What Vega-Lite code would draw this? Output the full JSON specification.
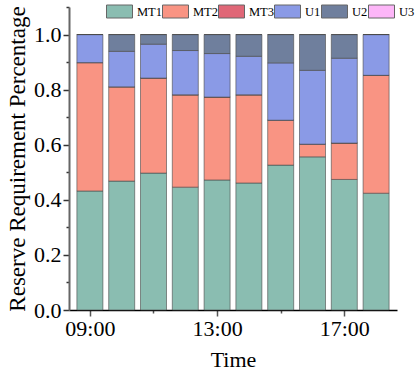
{
  "$schema": "https://vega.github.io/schema/vega-lite/v6.json",
  "width": 328,
  "height": 303,
  "autosize": {"type": "none"},
  "padding": {"left": 69, "top": 7, "right": 18, "bottom": 71},
  "background": "white",
  "config": {
    "view": {"stroke": null},
    "font": "Liberation Serif, Times New Roman, serif",
    "axis": {"labelFont": "Liberation Serif, Times New Roman, serif", "titleFont": "Liberation Serif, Times New Roman, serif"},
    "legend": {"labelFont": "Liberation Serif, Times New Roman, serif", "titleFont": "Liberation Serif, Times New Roman, serif"}
  },
  "data": {
    "values": [
      {"hour": 9, "series": "MT1", "k": 1, "v": 0.432},
      {"hour": 9, "series": "MT2", "k": 2, "v": 0.466},
      {"hour": 9, "series": "MT3", "k": 3, "v": 0},
      {"hour": 9, "series": "U1", "k": 4, "v": 0.102},
      {"hour": 9, "series": "U2", "k": 5, "v": 0},
      {"hour": 9, "series": "U3", "k": 6, "v": 0},
      {"hour": 10, "series": "MT1", "k": 1, "v": 0.468},
      {"hour": 10, "series": "MT2", "k": 2, "v": 0.342},
      {"hour": 10, "series": "MT3", "k": 3, "v": 0},
      {"hour": 10, "series": "U1", "k": 4, "v": 0.129},
      {"hour": 10, "series": "U2", "k": 5, "v": 0.061},
      {"hour": 10, "series": "U3", "k": 6, "v": 0},
      {"hour": 11, "series": "MT1", "k": 1, "v": 0.497},
      {"hour": 11, "series": "MT2", "k": 2, "v": 0.345},
      {"hour": 11, "series": "MT3", "k": 3, "v": 0},
      {"hour": 11, "series": "U1", "k": 4, "v": 0.123},
      {"hour": 11, "series": "U2", "k": 5, "v": 0.035},
      {"hour": 11, "series": "U3", "k": 6, "v": 0},
      {"hour": 12, "series": "MT1", "k": 1, "v": 0.446},
      {"hour": 12, "series": "MT2", "k": 2, "v": 0.335},
      {"hour": 12, "series": "MT3", "k": 3, "v": 0},
      {"hour": 12, "series": "U1", "k": 4, "v": 0.161},
      {"hour": 12, "series": "U2", "k": 5, "v": 0.058},
      {"hour": 12, "series": "U3", "k": 6, "v": 0},
      {"hour": 13, "series": "MT1", "k": 1, "v": 0.472},
      {"hour": 13, "series": "MT2", "k": 2, "v": 0.301},
      {"hour": 13, "series": "MT3", "k": 3, "v": 0},
      {"hour": 13, "series": "U1", "k": 4, "v": 0.158},
      {"hour": 13, "series": "U2", "k": 5, "v": 0.069},
      {"hour": 13, "series": "U3", "k": 6, "v": 0},
      {"hour": 14, "series": "MT1", "k": 1, "v": 0.461},
      {"hour": 14, "series": "MT2", "k": 2, "v": 0.320},
      {"hour": 14, "series": "MT3", "k": 3, "v": 0},
      {"hour": 14, "series": "U1", "k": 4, "v": 0.140},
      {"hour": 14, "series": "U2", "k": 5, "v": 0.079},
      {"hour": 14, "series": "U3", "k": 6, "v": 0},
      {"hour": 15, "series": "MT1", "k": 1, "v": 0.526},
      {"hour": 15, "series": "MT2", "k": 2, "v": 0.163},
      {"hour": 15, "series": "MT3", "k": 3, "v": 0},
      {"hour": 15, "series": "U1", "k": 4, "v": 0.208},
      {"hour": 15, "series": "U2", "k": 5, "v": 0.103},
      {"hour": 15, "series": "U3", "k": 6, "v": 0},
      {"hour": 16, "series": "MT1", "k": 1, "v": 0.556},
      {"hour": 16, "series": "MT2", "k": 2, "v": 0.046},
      {"hour": 16, "series": "MT3", "k": 3, "v": 0},
      {"hour": 16, "series": "U1", "k": 4, "v": 0.268},
      {"hour": 16, "series": "U2", "k": 5, "v": 0.130},
      {"hour": 16, "series": "U3", "k": 6, "v": 0},
      {"hour": 17, "series": "MT1", "k": 1, "v": 0.474},
      {"hour": 17, "series": "MT2", "k": 2, "v": 0.132},
      {"hour": 17, "series": "MT3", "k": 3, "v": 0},
      {"hour": 17, "series": "U1", "k": 4, "v": 0.308},
      {"hour": 17, "series": "U2", "k": 5, "v": 0.086},
      {"hour": 17, "series": "U3", "k": 6, "v": 0},
      {"hour": 18, "series": "MT1", "k": 1, "v": 0.424},
      {"hour": 18, "series": "MT2", "k": 2, "v": 0.428},
      {"hour": 18, "series": "MT3", "k": 3, "v": 0},
      {"hour": 18, "series": "U1", "k": 4, "v": 0.148},
      {"hour": 18, "series": "U2", "k": 5, "v": 0},
      {"hour": 18, "series": "U3", "k": 6, "v": 0}
    ]
  },
  "mark": {"type": "bar", "size": 26, "stroke": "#4a4a4a", "strokeWidth": 1, "strokeOpacity": 0.6},
  "encoding": {
    "x": {
      "field": "hour",
      "type": "quantitative",
      "scale": {"domain": [8.5, 18.5], "nice": false, "zero": false},
      "axis": {
        "title": "Time",
        "values": [9, 11, 13, 15, 17],
        "labelExpr": "datum.value % 4 == 1 ? (datum.value < 10 ? '0' : '') + datum.value + ':00' : ''",
        "labelFontSize": 22,
        "labelColor": "#000",
        "labelPadding": 2,
        "titleFontSize": 22,
        "titleFontWeight": "normal",
        "titleColor": "#000",
        "titlePadding": 10,
        "grid": false,
        "domainColor": "#000",
        "domainWidth": 1.5,
        "tickColor": "#555",
        "tickWidth": 1.5,
        "tickSize": {"condition": {"test": "datum.value % 4 == 1", "value": 6}, "value": 3},
        "labelFlush": false
      }
    },
    "y": {
      "field": "v",
      "type": "quantitative",
      "aggregate": "sum",
      "stack": "zero",
      "scale": {"domain": [0, 1.1], "nice": false},
      "axis": {
        "title": "Reserve Requirement Percentage",
        "values": [0, 0.1, 0.2, 0.3, 0.4, 0.5, 0.6, 0.7, 0.8, 0.9, 1.0, 1.1],
        "labelExpr": "(round(datum.value * 10) % 2 == 0 && datum.value < 1.05) ? format(datum.value, '.1f') : ''",
        "labelFontSize": 22,
        "labelColor": "#000",
        "labelPadding": 2,
        "titleFontSize": 23,
        "titleFontWeight": "normal",
        "titleColor": "#000",
        "titlePadding": 4,
        "grid": false,
        "domainColor": "#666",
        "domainWidth": 2,
        "tickColor": "#333",
        "tickWidth": 1.5,
        "tickSize": {"condition": {"test": "round(datum.value * 10) % 2 == 0 && datum.value < 1.05", "value": 6}, "value": 3},
        "labelFlush": false
      }
    },
    "color": {
      "field": "series",
      "type": "nominal",
      "scale": {
        "domain": ["MT1", "MT2", "MT3", "U1", "U2", "U3"],
        "range": ["#8abdb1", "#f99483", "#e06777", "#8a9ae6", "#6f7f9d", "#fdb6f8"]
      },
      "legend": {
        "title": null,
        "orient": "none",
        "legendX": 37,
        "legendY": -9,
        "padding": 0,
        "direction": "horizontal",
        "columns": 6,
        "columnPadding": -6,
        "symbolType": "M-1,-0.5H1V0.5H-1Z",
        "symbolSize": 676,
        "symbolStrokeColor": "#666",
        "symbolStrokeWidth": 1,
        "symbolOpacity": 1,
        "labelFontSize": 12.5,
        "labelColor": "#000",
        "labelOffset": 4
      }
    },
    "order": {"field": "k", "type": "quantitative"}
  }
}
